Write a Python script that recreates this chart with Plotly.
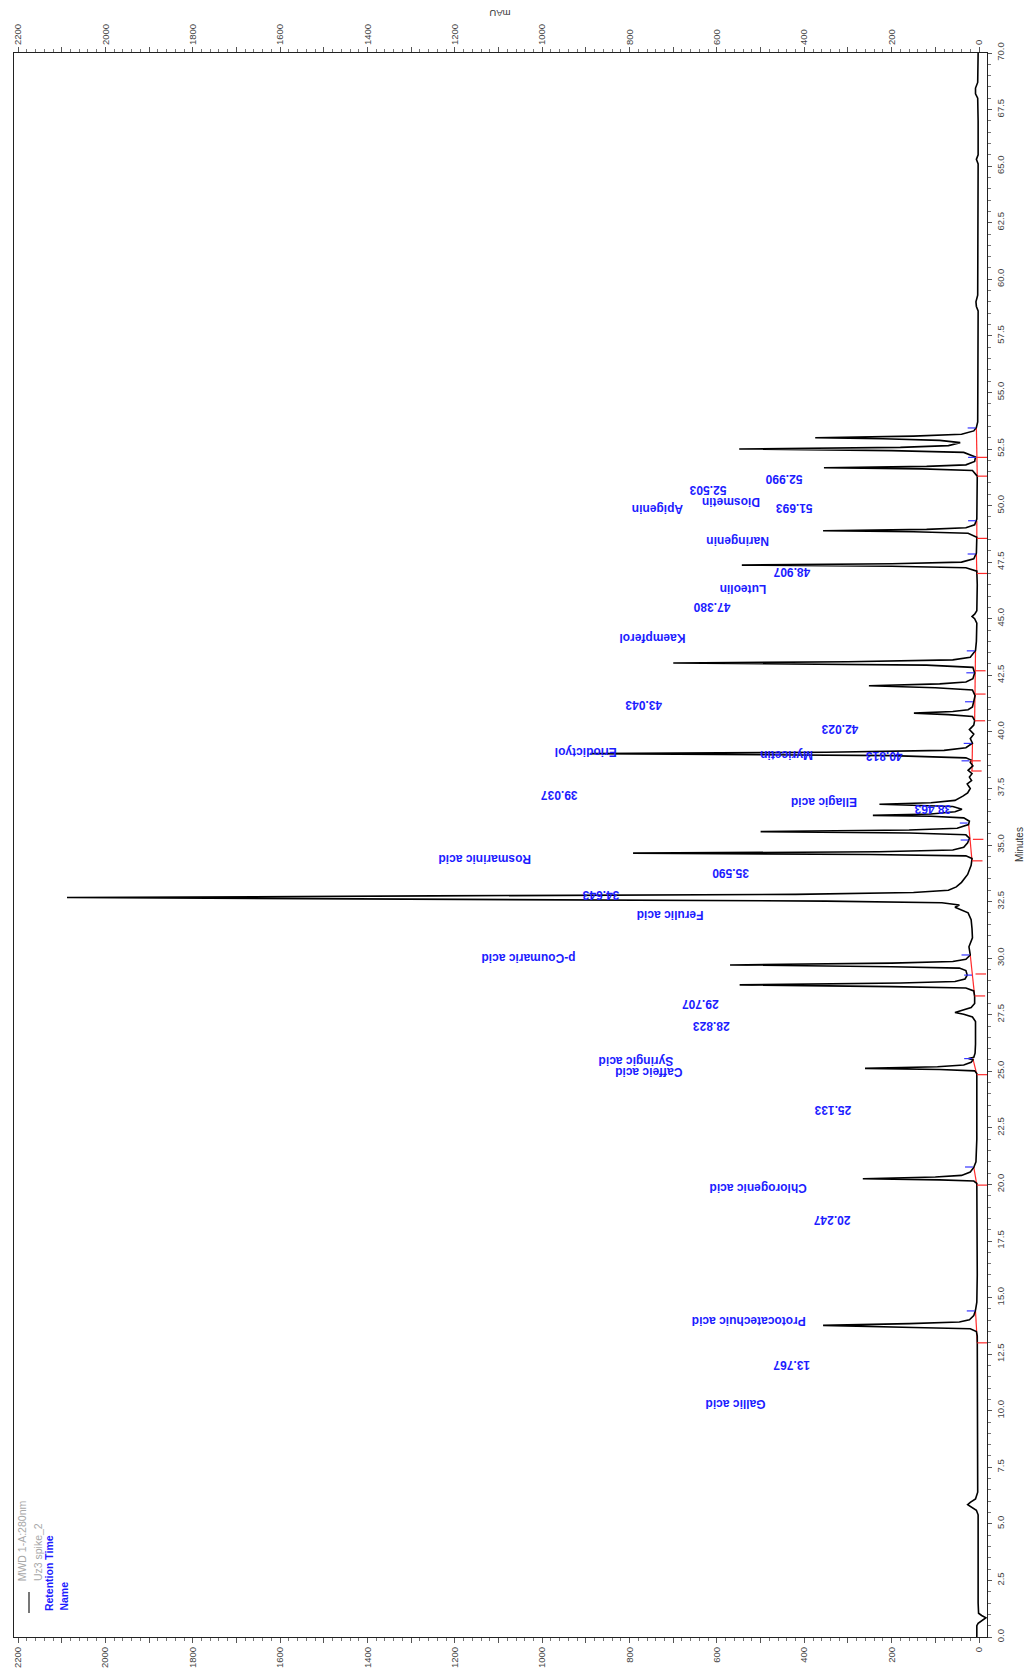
import plotly.graph_objects as go

# ---------------- data ----------------
# chromatogram trace, split in segments: time (min) / signal (mAU)
seg1_min = [0.0, 0.5, 0.6, 0.75, 0.85, 0.95, 1.05, 1.5, 5.4, 5.6, 5.75, 5.85, 5.95, 6.1, 6.4, 9.0, 13.0]
seg1_mau = [5, 5, 2, -8, -16, -6, 1, 2, 2, 6, 18, 26, 20, 8, 3, 3, 4]

seg2_min = [13.3, 13.5, 13.62, 13.68, 13.77, 13.85, 13.92, 14.02, 14.2, 14.45, 14.8, 16.0, 19.9]
seg2_mau = [4, 6, 20, 150, 357, 160, 45, 22, 12, 8, 5, 4, 4]

seg3_min = [20.05, 20.15, 20.2, 20.25, 20.33, 20.4, 20.55, 20.75, 21.0, 22.0, 24.9, 25.02, 25.08,
            25.13, 25.2, 25.28, 25.4, 25.5, 25.56, 25.62, 25.8, 26.2, 27.2]
seg3_mau = [5, 12, 90, 266, 100, 40, 20, 12, 7, 5, 5, 10, 90,
            261, 95, 35, 18, 14, 24, 12, 9, 8, 8]

seg4_min = [27.4, 27.52, 27.6, 27.7, 27.82, 28.0, 28.3, 28.55, 28.68, 28.74, 28.82, 28.9, 28.97,
            29.08, 29.25, 29.45, 29.56, 29.62, 29.7, 29.78, 29.85, 29.95, 30.14, 30.5, 30.9,
            31.3, 31.7, 32.0]
seg4_mau = [15, 35, 55, 40, 18, 10, 10, 12, 30, 200, 548, 180, 55,
            32, 27, 30, 45, 200, 570, 200, 60, 30, 20, 23, 15,
            16, 18, 25]

seg5_min = [32.15, 32.25, 32.35, 32.45, 32.52, 32.6, 32.68, 32.75, 32.82, 32.9, 33.0, 33.15, 33.35,
            33.7, 34.1, 34.4, 34.52, 34.58, 34.64, 34.7, 34.78, 34.9, 35.1, 35.3, 35.45, 35.53,
            35.59, 35.66, 35.74, 35.9, 36.05]
seg5_mau = [45, 55, 45, 85, 350, 1300, 2088, 1250, 420, 150, 70, 52, 40,
            26, 18, 16, 30, 250, 792, 230, 60, 35, 26, 22, 30, 160,
            500, 160, 50, 24, 22]

seg6_min = [36.2, 36.27, 36.31, 36.37, 36.47, 36.58, 36.7, 36.76, 36.8, 36.87, 36.97, 37.16, 37.3,
            37.5, 37.7, 37.85, 38.0, 38.15, 38.3, 38.5, 38.65, 38.75, 38.85, 38.95, 39.0, 39.04,
            39.1, 39.18, 39.3, 39.5]
seg6_mau = [35, 110, 243, 110, 55, 39, 60, 140, 228, 110, 55, 37, 26,
            20, 27, 17, 22, 16, 25, 14, 20, 18, 30, 200, 600, 890,
            350, 80, 30, 15]

seg7_min = [39.7, 39.9, 40.1, 40.3, 40.5, 40.68, 40.76, 40.83, 40.9, 40.98, 41.1, 41.3, 41.6,
            41.85, 41.95, 42.04, 42.12, 42.2, 42.35, 42.6, 42.85, 42.95, 43.0, 43.04, 43.1,
            43.18, 43.3, 43.6, 44.0, 44.8]
seg7_mau = [20, 12, 22, 12, 10, 15, 70, 149, 60, 25, 15, 12, 9,
            15, 100, 252, 90, 30, 14, 10, 14, 120, 420, 700, 300,
            60, 20, 8, 6, 5]

seg8_min = [45.0, 45.1, 45.2, 45.35, 46.5, 47.1, 47.25, 47.32, 47.37, 47.43, 47.5, 47.65, 47.9,
            48.6, 48.78, 48.84, 48.89, 48.95, 49.02, 49.15, 49.4, 51.3, 51.55, 51.62, 51.67,
            51.73, 51.8, 51.95, 52.15, 52.35, 52.43, 52.5, 52.57, 52.65, 52.78, 52.88, 52.95,
            53.0, 53.07, 53.15, 53.3, 53.45, 53.7]
seg8_mau = [10, 16, 10, 5, 4, 5, 30, 200, 543, 200, 40, 12, 6,
            5, 25, 150, 357, 120, 30, 10, 5, 4, 15, 130, 355,
            120, 30, 10, 8, 35, 200, 549, 180, 70, 43, 90, 220,
            375, 150, 40, 12, 6, 3]

seg9_min = [56.0, 58.6, 58.8, 59.0, 59.3, 62.0, 65.1, 65.3, 65.5, 67.0, 68.0, 68.2, 68.45, 68.7, 70.0]
seg9_mau = [2, 2, 6, 7, 3, 2, 2, 6, 2, 2, 3, 8, 8, 3, 2]

# integration marks
base_start_min = [13.0, 19.97, 24.85, 28.33, 34.3, 38.27, 40.49, 47.0, 48.55, 51.3]
base_end_min = [14.41, 20.77, 25.56, 30.14, 35.97, 39.49, 43.58, 47.86, 49.33, 53.43]
base_start_mau = [4, 5, 5, 10, 16, 16, 10, 5, 5, 4]
base_end_mau = [8, 12, 14, 20, 24, 15, 8, 6, 5, 6]

red_tick_min = [13.0, 19.97, 24.85, 28.33, 29.3, 34.3, 35.25, 38.27, 38.72, 40.49, 41.67, 42.7,
                47.0, 48.55, 51.3, 52.13]
red_tick_mau = [4, 5, 5, 10, 8, 16, 14, 18, 20, 10, 9, 9, 5, 5, 4, 5]
blue_tick_min = [14.41, 20.77, 25.56, 29.25, 30.14, 35.22, 35.97, 38.72, 39.49, 41.33, 42.61,
                 43.58, 47.86, 49.33, 52.13, 53.43]
blue_tick_mau = [8, 12, 14, 14, 20, 22, 24, 20, 15, 12, 9, 8, 6, 5, 5, 6]

# peak labels: text, mAU position, minute position
label_text = ["Gallic acid", "13.767", "Protocatechuic acid", "20.247", "Chlorogenic acid",
              "25.133", "Caffeic acid", "Syringic acid", "28.823", "29.707", "p-Coumaric acid",
              "Ferulic acid", "34.643", "35.590", "Rosmarinic acid", "Ellagic acid", "38.463",
              "39.037", "40.813", "Myricetin", "Eriodictyol", "42.023", "43.043", "Kaempferol",
              "47.380", "Luteolin", "48.907", "Naringenin", "51.693", "Diosmetin", "Apigenin",
              "52.503", "52.990"]
label_mau = [558, 428, 528, 336, 505, 334, 755, 785, 614, 638, 1032, 707, 865, 569, 1132, 355, 105,
             962, 218, 442, 900, 319, 768, 747, 612, 540, 429, 553, 424, 569, 736, 620, 446]
label_min = [10.27, 12.02, 13.99, 18.46, 19.87, 23.30, 24.94, 25.46, 27.01, 27.95, 29.98, 31.9,
             32.8, 33.74, 34.35, 36.93, 36.59, 37.22, 38.96, 39.0, 39.14, 40.13, 41.21, 44.18,
             45.54, 46.34, 47.09, 48.41, 49.86, 50.15, 49.82, 50.66, 51.18]

mau_ticks = list(range(0, 2201, 100))
mau_ticktext = [str(v) if v % 200 == 0 else "" for v in mau_ticks]

legend_lines = ["MWD 1-A:280nm", "Uz3 spike_2", "Retention Time", "Name"]

# ---------------- figure ----------------
FONT = "Liberation Sans, Arial, sans-serif"
BLUE = "#1c1cff"
RED = "#ff2a2a"

trace_min = seg1_min + seg2_min + seg3_min + seg4_min + seg5_min + seg6_min + seg7_min + seg8_min + seg9_min
trace_mau = seg1_mau + seg2_mau + seg3_mau + seg4_mau + seg5_mau + seg6_mau + seg7_mau + seg8_mau + seg9_mau

fig = go.Figure()

# red integration baselines
bx, by = [], []
for s, e, sa, ea in zip(base_start_min, base_end_min, base_start_mau, base_end_mau):
    bx += [sa, ea, None]
    by += [s, e, None]
fig.add_trace(go.Scatter(x=bx, y=by, mode="lines", line=dict(color=RED, width=1.2),
                         hoverinfo="skip", showlegend=False))

fig.add_trace(go.Scatter(x=trace_mau, y=trace_min, mode="lines",
                         line=dict(color="black", width=1.6), showlegend=False,
                         hoverinfo="skip"))

# red ticks (towards the axis) and blue ticks (away from it)
rx, ry = [], []
for t, a in zip(red_tick_min, red_tick_mau):
    rx += [a, a - 24, None]
    ry += [t, t, None]
fig.add_trace(go.Scatter(x=rx, y=ry, mode="lines", line=dict(color=RED, width=1.2),
                         hoverinfo="skip", showlegend=False))
ux, uy = [], []
for t, a in zip(blue_tick_min, blue_tick_mau):
    ux += [a + 2, a + 20, None]
    uy += [t, t, None]
fig.add_trace(go.Scatter(x=ux, y=uy, mode="lines", line=dict(color="#3535ff", width=1.2),
                         hoverinfo="skip", showlegend=False))

# dummy trace for the top axis
fig.add_trace(go.Scatter(x=[0], y=[0], xaxis="x2", yaxis="y", mode="markers",
                         marker=dict(opacity=0), hoverinfo="skip", showlegend=False))

annotations = []
for txt, a, t in zip(label_text, label_mau, label_min):
    annotations.append(dict(x=a, y=t, xref="x", yref="y", text=txt, showarrow=False,
                            textangle=180, xanchor="center", yanchor="middle",
                            font=dict(family=FONT, size=12, color=BLUE, weight="bold")))

# legend (rotated)
leg_x = [2189, 2154, 2129, 2097]
leg_y = [2.39, 2.39, 1.06, 1.06]
leg_col = ["#a8a8a8", "#a8a8a8", BLUE, BLUE]
leg_w = ["normal", "normal", "bold", "bold"]
for txt, a, t, c, w in zip(legend_lines, leg_x, leg_y, leg_col, leg_w):
    annotations.append(dict(x=a, y=t, xref="x", yref="y", text=txt, showarrow=False,
                            textangle=-90, xanchor="center", yanchor="bottom",
                            font=dict(family=FONT, size=10.5, color=c, weight=w)))

# axis titles
annotations.append(dict(x=1.033, y=0.5, xref="paper", yref="paper", text="Minutes",
                        showarrow=False, textangle=-90, xanchor="center", yanchor="middle",
                        font=dict(family=FONT, size=10, color="#333")))
annotations.append(dict(x=1096, y=1.0253, xref="x", yref="paper", text="mAU",
                        showarrow=False, textangle=180, xanchor="center", yanchor="middle",
                        font=dict(family=FONT, size=9.5, color="#333")))

shapes = [dict(type="line", xref="x", yref="y", x0=2175, x1=2175, y0=1.06, y1=1.99,
               line=dict(color="#777", width=2))]

xaxis_common = dict(range=[2209.3, -18.3], tickmode="array", tickvals=mau_ticks,
                    ticktext=mau_ticktext, ticks="outside", ticklen=5, tickwidth=1,
                    tickcolor="#555", tickangle=-90, showgrid=False, zeroline=False,
                    showline=True, linecolor="#222", linewidth=1.2, automargin=False,
                    tickfont=dict(family=FONT, size=9.5, color="#444"),
                    minor=dict(dtick=20, tick0=0, ticks="outside", ticklen=3,
                               tickcolor="#777", showgrid=False))

fig.update_layout(
    width=1030, height=1669,
    margin=dict(l=14, r=43, t=53, b=32, autoexpand=False),
    plot_bgcolor="white", paper_bgcolor="white",
    xaxis=dict(**xaxis_common, side="bottom"),
    xaxis2=dict(**xaxis_common, side="top", overlaying="x", matches="x", anchor="y"),
    yaxis=dict(range=[0, 70], side="right", dtick=2.5, tick0=0, tickformat=".1f",
               ticks="outside", ticklen=4, tickcolor="#555", tickangle=-90,
               showgrid=False, zeroline=False, showline=True, mirror=True,
               linecolor="#222", linewidth=1.2, automargin=False,
               tickfont=dict(family=FONT, size=9.5, color="#444"),
               minor=dict(dtick=0.5, ticks="outside", ticklen=3, tickcolor="#777",
                          showgrid=False)),
    annotations=annotations,
    shapes=shapes,
    showlegend=False,
)

# remove the default 8 px page margin so the 1030x1669 figure fills the window exactly
fig.write_html("out.html",
               config={"displayModeBar": False},
               post_script="document.body.style.margin='0';"
                           "document.documentElement.style.overflow='hidden';")
